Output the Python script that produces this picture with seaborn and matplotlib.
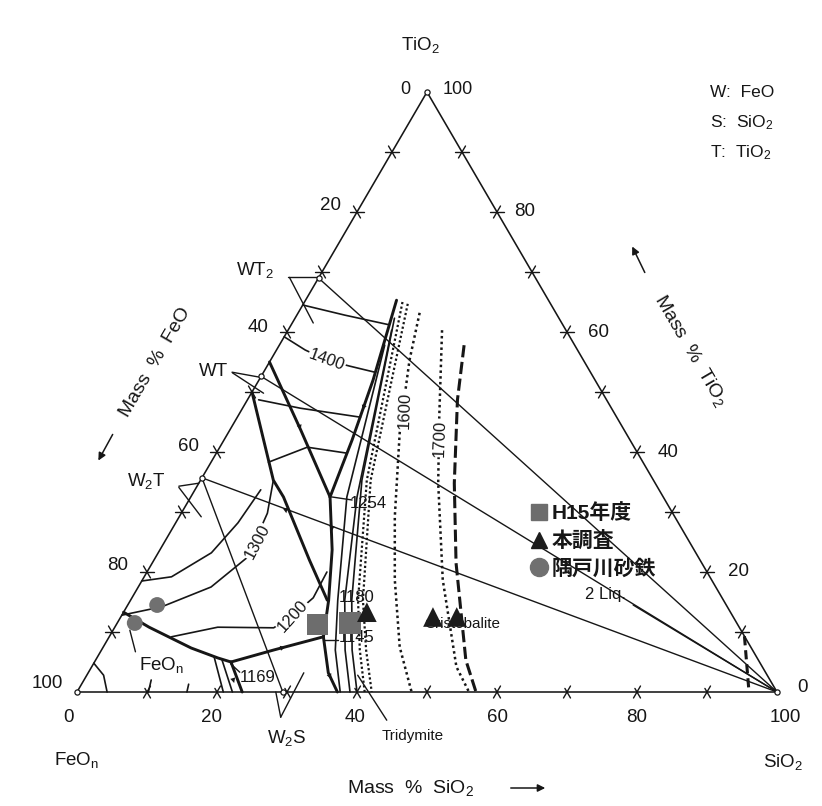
import numpy as np
import pandas as pd
import matplotlib
matplotlib.use("Agg")
import matplotlib.pyplot as plt
import seaborn as sns
from matplotlib.lines import Line2D

sns.set_theme(style="white")
plt.rcParams["font.family"] = ["Liberation Sans", "Noto Sans CJK JP", "DejaVu Sans"]
plt.rcParams["mathtext.fontset"] = "custom"
plt.rcParams["mathtext.rm"] = "Liberation Sans"
plt.rcParams["mathtext.it"] = "Liberation Sans:italic"

# ---------------- data: compositions as (mass% SiO2, mass% TiO2) ----------------
tick_values = [10, 20, 30, 40, 50, 60, 70, 80, 90]
edge_labels = ["0", "20", "40", "60", "80", "100"]

compound_names = ["WT2", "WT", "W2T", "W2S"]
compound_S = [0.0, 0.0, 0.0, 29.4]
compound_T = [69.0, 52.6, 35.7, 0.0]

# tie lines to the SiO2 corner
tie_SiO2_from = [(0.0, 69.0), (0.0, 52.6), (0.0, 35.7)]
tie_W2T_W2S = [(0.0, 35.7), (29.4, 0.0)]
two_liq_leader = [(72.2, 14.5), (100.0, 0.0)]
two_liq_boundary = [(90.7, 9.3), (96.0, 0.0)]

# univariant boundary curves (thick)
b_silica = [(13.0, 65.3), (16.3, 52.0), (18.3, 42.0), (19.9, 32.5)]
b_wt2_wt = [(0.0, 55.0), (10.1, 43.7), (19.9, 32.5)]
b_wt_w2t = [(0.0, 50.0), (10.4, 35.3), (13.25, 32.5), (22.2, 22.0), (28.1, 15.3)]
b_1254_1180 = [(19.9, 32.5), (24.6, 23.7), (28.3, 15.3)]
b_1180_1145 = [(28.3, 15.3), (30.6, 9.2)]
b_1145_bottom = [(30.6, 9.2), (34.3, 3.2), (37.2, 0.0)]
b_1145_1169 = [(30.6, 9.2), (24.6, 7.0), (19.5, 5.0)]
b_1169_bottom = [(19.5, 5.0), (23.6, 0.0)]
b_feon = [(0.0, 13.3), (4.9, 10.8), (12.65, 7.33), (17.3, 5.67), (19.5, 5.0)]

# isotherms (thin)
iso_1500 = [(0.0, 64.5), (6.9, 62.8), (14.0, 61.2)]
iso_1400 = [(0.0, 59.2), (4.1, 57.0), (8.1, 55.3), (11.85, 54.3), (15.9, 53.3)]
iso_1350 = [(1.6, 48.7), (8.25, 47.3), (17.6, 45.8)]
iso_1330 = [(8.2, 38.3), (12.5, 40.8), (18.7, 39.8)]
iso_w2t = [(0.0, 18.5), (3.9, 19.2), (7.6, 23.2), (8.9, 28.2), (9.4, 33.7)]
iso_1300 = [(0.0, 12.8), (5.0, 14.2), (10.4, 17.5), (13.15, 22.5), (12.3, 29.8), (10.4, 35.3)]
iso_1200 = [(8.9, 9.2), (14.7, 10.8), (22.75, 10.7), (24.5, 12.8), (25.9, 15.7), (25.7, 20.0)]
iso_corner = [(4.3, 0.0), (2.4, 2.8), (0.0, 4.8)]
iso_small1 = [(10.2, 0.0), (9.6, 2.0)]
iso_small2 = [(15.7, 0.0), (15.3, 1.3)]
iso_small3 = [(16.7, 5.8), (20.9, 0.0)]
iso_small4 = [(18.0, 5.4), (22.2, 0.0)]

# silica-field liquidus curves
sil_1 = [(15.06, 57.8), (22.3, 32.5), (29.6, 15.3), (33.4, 7.0), (37.6, 0.0)]
sil_2 = [(14.8, 60.3), (23.75, 32.5), (30.6, 15.3), (34.8, 7.0), (39.0, 0.0)]
sil_3 = [(14.2, 62.3), (23.05, 35.3), (31.6, 15.3), (35.8, 7.0), (40.0, 0.0)]
sil_d1 = [(14.0, 65.0), (23.75, 35.3), (32.5, 15.3), (36.9, 7.0), (41.1, 0.0)]
sil_d2 = [(14.9, 64.7), (24.3, 35.3), (33.2, 15.3), (37.8, 7.0), (42.1, 0.0)]
iso_1600 = [(17.35, 63.2), (19.85, 55.3), (24.5, 43.2), (30.8, 29.2), (36.05, 18.7), (42.35, 7.5), (47.8, 0.0)]
iso_1700 = [(22.0, 60.3), (28.85, 45.8), (34.2, 34.8), (42.9, 18.7), (52.1, 4.2), (56.0, 0.0)]
cristo_tridy = [(26.4, 57.8), (30.0, 48.7), (36.5, 34.8), (43.4, 21.5), (52.9, 5.3), (57.0, 0.0)]

# label leader lines
lead_wt2 = [[(-4.4, 69.2), (-0.1, 69.2)], [(-4.2, 69.1), (3.0, 61.5)]]
lead_wt = [[(-4.5, 53.3), (-0.3, 52.5)], [(-4.4, 53.2), (1.75, 49.8)]]
lead_w2t = [[(-2.6, 34.3), (0.0, 34.8)], [(-2.5, 34.1), (3.15, 29.2)]]
lead_w2s = [[(31.2, -4.2), (28.4, 0.0)], [(31.2, -4.2), (30.8, 3.2)]]
lead_tridy = [(46.6, -4.7), (38.7, 2.8)]
lead_1254 = [(20.2, 32.5), (23.3, 32.0)]
lead_1145 = [(31.0, 8.7), (33.0, 8.7)]
lead_1169 = [(19.6, 4.7), (21.6, 3.3)]
lead_feon = [(5.0, 6.7), (2.4, 10.3)]

# flow arrows on boundaries: (point, direction point)
flow_arrows = [((16.3, 52.0), (17.3, 47.0)), ((9.1, 45.0), (10.1, 43.7)),
               ((13.25, 32.5), (15.0, 29.8)), ((22.3, 28.3), (23.0, 26.8)),
               ((24.6, 7.0), (26.0, 7.5)), ((34.3, 3.2), (35.2, 2.2)),
               ((21.1, 2.3), (21.7, 1.5))]

# sample points
h15_S = [28.7, 33.25]
h15_T = [11.2, 11.5]
honchosa_S = [34.76, 44.6, 48.0]
honchosa_T = [13.3, 12.5, 12.5]
sunatetsu_S = [4.2, 2.5]
sunatetsu_T = [14.5, 11.5]

legend_labels = ["H15年度", "本調査", "隅戸川砂鉄"]

# ---------------- helpers ----------------
def cart(S, T):
    S = np.asarray(S, float); T = np.asarray(T, float)
    return S + T / 2.0, T

def cart_pts(pts):
    a = np.asarray(pts, float)
    return cart(a[:, 0], a[:, 1])

def P(px, py):  # figure pixel -> data (layout of texts only)
    return (px - 77) / 7.0, (692 - py) / 6.0

W, H = 822, 806
fig = plt.figure(figsize=(W / 100, H / 100), dpi=100)
ax = fig.add_axes([0, 0, 1, 1])
ax.set_xlim(-77 / 7.0, (W - 77) / 7.0)
ax.set_ylim((692 - H) / 6.0, 692 / 6.0)
ax.axis("off")
fig.patch.set_facecolor("white")

K = "#161616"
THIN = 1.0
THICK = 2.1

def line(pts, lw=THIN, ls="-", color=K, z=2):
    x, y = cart_pts(pts)
    ax.plot(x, y, color=color, lw=lw, ls=ls, solid_capstyle="round", zorder=z)

# frame
line([(0, 0), (100, 0), (0, 100), (0, 0)], lw=1.15)

# ticks
d = 1.0
for t in tick_values:
    line([(-d, t), (d, t)], lw=1.0)
    line([(-d, t + d), (d, t - d)], lw=1.0)
    line([(100 - t - d, t), (100 - t + d, t)], lw=1.0)
    line([(100 - t, t - d), (100 - t, t + d)], lw=1.0)
    line([(t, -d), (t, d)], lw=1.0)
    line([(t + d, -d), (t - d * 0.6, d * 0.6)], lw=1.0)

# tie lines
for p in tie_SiO2_from:
    line([p, (100.0, 0.0)])
line(tie_W2T_W2S)
line(two_liq_leader)
line(two_liq_boundary, lw=2.2, ls=(0, (3.0, 1.6)))

# isotherms
for c in [iso_1500, iso_1400, iso_1350, iso_1330, iso_w2t, iso_1300, iso_1200,
          iso_corner, iso_small1, iso_small2, iso_small3, iso_small4,
          sil_1, sil_2, sil_3]:
    line(c, lw=1.2)
line(sil_d1, lw=1.6, ls=(0, (1.0, 1.1)))
line(sil_d2, lw=1.6, ls=(0, (1.0, 1.1)))
line(iso_1600, lw=1.8, ls=(0, (1.0, 1.3)))
line(iso_1700, lw=1.8, ls=(0, (1.0, 1.3)))
line(cristo_tridy, lw=2.2, ls=(0, (4.0, 1.5)))

# boundaries
for c in [b_silica, b_wt2_wt, b_wt_w2t, b_1254_1180, b_1180_1145, b_1145_bottom,
          b_1145_1169, b_1169_bottom, b_feon]:
    line(c, lw=THICK, z=3)

# leaders
for pair in lead_wt2 + lead_wt + lead_w2t + lead_w2s:
    line(pair, lw=1.0)
for c in [lead_tridy, lead_1254, lead_1145, lead_1169, lead_feon]:
    line(c, lw=1.0)

# flow arrows
for (p, q) in flow_arrows:
    x0, y0 = cart(*p); x1, y1 = cart(*q)
    ax.annotate("", xy=(x1, y1), xytext=(x0, y0),
                arrowprops=dict(arrowstyle="-|>", color=K, lw=0.01,
                                mutation_scale=9, shrinkA=0, shrinkB=0), zorder=4)

# vertices and compounds (small open circles)
vx, vy = cart([0, 100, 0] + compound_S, [0, 0, 100] + compound_T)
ax.scatter(vx, vy, s=14, facecolor="white", edgecolor=K, lw=0.9, zorder=4)

# sample markers via seaborn
sx, sy = cart(h15_S, h15_T)
sns.scatterplot(x=sx, y=sy, marker="s", s=230, color="#6d6d6d", edgecolor="none", ax=ax, zorder=6)
sx, sy = cart(honchosa_S, honchosa_T)
sns.scatterplot(x=sx, y=sy, marker="^", s=200, color="#1c1c1c", edgecolor="none", ax=ax, zorder=6)
sx, sy = cart(sunatetsu_S, sunatetsu_T)
sns.scatterplot(x=sx, y=sy, marker="o", s=130, color="#707070", edgecolor="none", ax=ax, zorder=6)

# ---------------- texts ----------------
def txt(px, py, s, size=13, rot=0, ha="center", va="center", bg=False, **kw):
    x, y = P(px, py)
    bbox = dict(facecolor="white", edgecolor="none", pad=0.6) if bg else None
    ax.text(x, y, s, fontsize=size, rotation=rot, ha=ha, va=va, color=K,
            rotation_mode="anchor", bbox=bbox, zorder=5, **kw)

txt(420, 45, "TiO$_2$", 13.5)
txt(405, 90, "0", 13)
txt(458, 90, "100", 13)
txt(710, 97, "W:  FeO", 12.5, ha="left", va="baseline")
txt(710, 127, "S:  SiO$_2$", 12.5, ha="left", va="baseline")
txt(710, 157, "T:  TiO$_2$", 12.5, ha="left", va="baseline")

for (px, py), s in zip([(47, 683), (118, 565), (188, 447), (258, 328), (330, 206)],
                       ["100", "80", "60", "40", "20"]):
    txt(px, py, s, 13.5)
for (px, py), s in zip([(802, 687), (738, 572), (668, 453), (598, 333), (525, 212)],
                       ["0", "20", "40", "60", "80"]):
    txt(px, py, s, 13.5)
for px, s in zip([68, 212, 355, 497, 637, 785], edge_labels):
    txt(px, 718, s, 13.5)

txt(77, 760, "FeO$_\\mathrm{n}$", 13.5)
txt(783, 762, "SiO$_2$", 13.5)
txt(347, 788, "Mass  %  SiO$_2$", 14, ha="left")
ax.annotate("", xy=P(548, 788), xytext=P(508, 788),
            arrowprops=dict(arrowstyle="-|>", color=K, lw=1.1, mutation_scale=11))
txt(155, 362, "Mass  %  FeO", 14, rot=59.7)
ax.annotate("", xy=P(97, 463), xytext=P(114, 432),
            arrowprops=dict(arrowstyle="-|>", color=K, lw=1.1, mutation_scale=11))
txt(690, 350, "Mass  %  TiO$_2$", 14, rot=-59.7)
ax.annotate("", xy=P(631, 244), xytext=P(646, 275),
            arrowprops=dict(arrowstyle="-|>", color=K, lw=1.1, mutation_scale=11))

txt(255, 270, "WT$_2$", 13.5)
txt(213, 372, "WT", 13.5)
txt(146, 481, "W$_2$T", 13.5)
txt(287, 738, "W$_2$S", 13.5)
txt(162, 665, "FeO$_\\mathrm{n}$", 13.5)

txt(327, 360, "1400", 12, rot=-20, bg=True)
txt(257, 542, "1300", 12, rot=62, bg=True)
txt(293, 616, "1200", 12, rot=48, bg=True)
txt(405, 410, "1600", 12, rot=88, bg=True)
txt(440, 438, "1700", 12, rot=88, bg=True)
txt(350, 503, "1254", 12, ha="left")
txt(339, 598, "1180", 12, ha="left")
txt(339, 638, "1145", 12, ha="left")
txt(240, 677, "1169", 12, ha="left")
txt(605, 595, "2 Liq.", 12)
txt(413, 736, "Tridymite", 11)
txt(462, 624, "Cristobalite", 11)

# legend
handles = [Line2D([], [], marker="s", ls="", color="#6d6d6d", markersize=12, label=legend_labels[0]),
           Line2D([], [], marker="^", ls="", color="#1c1c1c", markersize=12, label=legend_labels[1]),
           Line2D([], [], marker="o", ls="", color="#707070", markersize=13, label=legend_labels[2])]
leg = ax.legend(handles=handles, loc="upper left", bbox_to_anchor=(532 / W, 1 - 503 / H),
                bbox_transform=fig.transFigure, frameon=False, borderpad=0, borderaxespad=0,
                handlelength=0.7, handletextpad=0.25, labelspacing=0.38,
                prop=dict(family=["Liberation Sans", "Noto Sans CJK JP"], size=15, weight="bold"))
for t in leg.get_texts():
    t.set_color(K)

fig.savefig("out.png", dpi=100, facecolor="white")
